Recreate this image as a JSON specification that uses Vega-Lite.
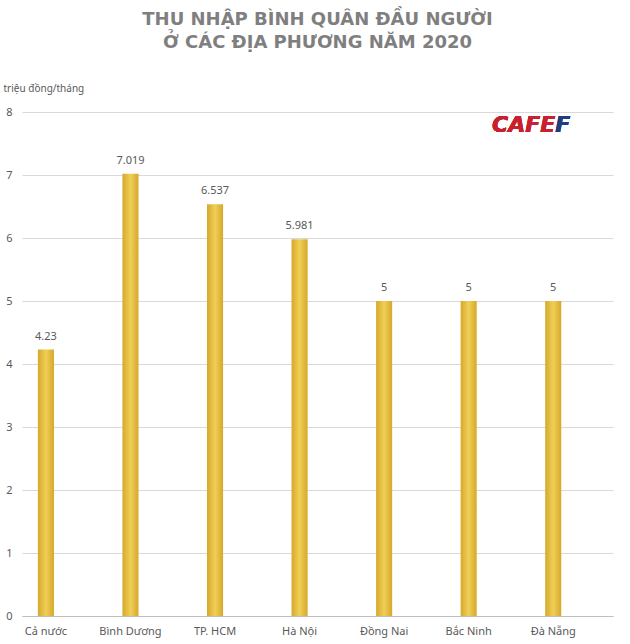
{
  "$schema": "https://vega.github.io/schema/vega-lite/v6.json",
  "width": 591,
  "height": 504,
  "autosize": "none",
  "padding": {"left": 22, "top": 112, "right": 17, "bottom": 28},
  "background": "white",
  "title": {
    "text": ["THU NHẬP BÌNH QUÂN ĐẦU NGƯỜI", "Ở CÁC ĐỊA PHƯƠNG NĂM 2020"],
    "font": "DejaVu Sans",
    "fontSize": 18,
    "fontWeight": "bold",
    "color": "#7f7f7f",
    "lineHeight": 23,
    "anchor": "middle",
    "frame": "group",
    "offset": 31
  },
  "config": {
    "view": {"stroke": null},
    "font": "Noto Sans"
  },
  "data": {
    "values": [
      {"place": "Cả nước", "value": 4.23},
      {"place": "Bình Dương", "value": 7.019},
      {"place": "TP. HCM", "value": 6.537},
      {"place": "Hà Nội", "value": 5.981},
      {"place": "Đồng Nai", "value": 5},
      {"place": "Bắc Ninh", "value": 5},
      {"place": "Đà Nẵng", "value": 5}
    ]
  },
  "encoding": {
    "x": {
      "field": "place",
      "type": "nominal",
      "sort": null,
      "scale": {"paddingInner": 0.81, "paddingOuter": 0.4, "align": 0.235},
      "axis": {
        "title": null,
        "labelAngle": 0,
        "ticks": false,
        "domainColor": "#bfbfbf",
        "labelColor": "#595959",
        "labelFontSize": 11,
        "labelPadding": 9,
        "labelFont": "Noto Sans"
      }
    },
    "y": {
      "field": "value",
      "type": "quantitative",
      "scale": {"domain": [0, 8]},
      "axis": {
        "title": "triệu đồng/tháng",
        "titleAngle": 0,
        "titleAlign": "left",
        "titleBaseline": "middle",
        "titleX": -19,
        "titleY": -24,
        "titleFontSize": 10,
        "titleFontWeight": "normal",
        "titleColor": "#595959",
        "titleFont": "Noto Sans",
        "values": [0, 1, 2, 3, 4, 5, 6, 7, 8],
        "labelOverlap": false,
        "domain": false,
        "ticks": false,
        "gridColor": "#d9d9d9",
        "labelColor": "#595959",
        "labelFontSize": 11,
        "labelPadding": 10,
        "labelFont": "Noto Sans"
      }
    }
  },
  "layer": [
    {
      "mark": {
        "type": "bar",
        "color": {
          "gradient": "linear",
          "x1": 0, "x2": 1, "y1": 0, "y2": 0,
          "stops": [
            {"offset": 0, "color": "#d6a82a"},
            {"offset": 0.5, "color": "#f0cf58"},
            {"offset": 1, "color": "#d6a82a"}
          ]
        }
      }
    },
    {
      "mark": {"type": "text", "baseline": "bottom", "dy": -8, "fontSize": 11, "color": "#595959", "font": "Noto Sans"},
      "encoding": {
        "text": {"field": "value", "type": "quantitative", "format": "~g"}
      }
    },
    {
      "mark": {"type": "text", "align": "right", "baseline": "middle", "dx": 2, "fontSize": 22, "fontWeight": "bold", "fontStyle": "italic", "font": "DejaVu Sans", "color": "#c8202f"},
      "encoding": {
        "x": {"datum": "Đà Nẵng", "type": "nominal"},
        "y": {"datum": 7.8, "type": "quantitative"},
        "text": {"value": "CAFE"}
      }
    },
    {
      "mark": {"type": "text", "align": "left", "baseline": "middle", "dx": 2, "fontSize": 22, "fontWeight": "bold", "fontStyle": "italic", "font": "DejaVu Sans", "color": "#1f3e7a"},
      "encoding": {
        "x": {"datum": "Đà Nẵng", "type": "nominal"},
        "y": {"datum": 7.8, "type": "quantitative"},
        "text": {"value": "F"}
      }
    }
  ]
}
